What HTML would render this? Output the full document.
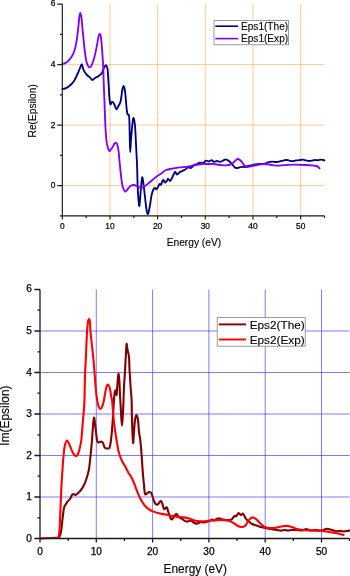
<!DOCTYPE html>
<html><head><meta charset="utf-8"><title>Epsilon</title>
<style>html,body{margin:0;padding:0;background:#fff}svg{display:block}text{font-family:"Liberation Sans",Arial,sans-serif;fill:#000}.t{stroke:#000;stroke-width:0.25px}.l{stroke:#000;stroke-width:0.12px}</style></head><body>
<svg width="350" height="576" viewBox="0 0 350 576">
<rect width="350" height="576" fill="#fff"/>
<path d="M110.0,4.1V215.8M157.6,4.1V215.8M205.3,4.1V215.8M253.0,4.1V215.8M300.7,4.1V215.8M62.3,185.6H324.5M62.3,125.1H324.5M62.3,64.6H324.5" stroke="#ff9a40" stroke-width="1" stroke-opacity="0.52" fill="none"/>
<path d="M62.5,89.0 C62.9,88.9 64.1,88.8 65.0,88.5 C65.9,88.2 67.0,87.7 68.0,87.0 C69.0,86.3 70.0,85.5 71.0,84.5 C72.0,83.5 72.8,82.9 74.0,81.0 C75.2,79.1 77.0,75.2 78.0,73.0 C79.0,70.8 79.4,69.4 80.0,68.0 C80.6,66.6 81.2,64.7 81.6,64.4 C82.0,64.2 82.2,65.6 82.5,66.5 C82.8,67.4 83.2,69.0 83.6,70.0 C84.0,71.0 84.4,71.7 85.0,72.5 C85.6,73.3 86.2,74.2 87.0,75.0 C87.8,75.8 89.1,76.8 90.0,77.6 C90.9,78.4 91.6,79.9 92.4,80.0 C93.2,80.1 94.0,78.7 95.0,78.0 C96.0,77.3 97.6,76.7 98.6,76.1 C99.5,75.5 100.2,74.8 100.7,74.3 C101.2,73.8 101.5,73.5 101.9,72.9 C102.3,72.3 102.6,71.5 102.9,70.7 C103.2,69.9 103.4,68.8 103.9,67.9 C104.4,67.0 105.2,65.5 105.7,65.3 C106.2,65.1 106.7,66.1 107.0,67.0 C107.3,67.9 107.4,67.7 107.7,70.5 C108.0,73.3 108.3,79.3 108.6,83.6 C108.9,87.9 109.0,93.0 109.3,96.4 C109.6,99.9 109.9,103.4 110.4,104.3 C110.9,105.2 111.4,101.6 112.1,101.6 C112.8,101.6 113.6,103.0 114.3,104.3 C115.0,105.6 115.7,109.1 116.4,109.3 C117.1,109.5 117.9,106.9 118.6,105.7 C119.3,104.5 119.9,103.6 120.4,102.1 C120.9,100.5 121.1,98.5 121.4,96.4 C121.7,94.3 122.0,91.0 122.4,89.3 C122.8,87.5 123.2,85.9 123.6,85.9 C124.0,85.9 124.3,87.3 124.7,89.3 C125.1,91.3 125.4,94.6 125.7,97.9 C126.0,101.2 126.4,106.6 126.7,109.3 C127.0,112.0 127.2,113.3 127.6,114.3 C128.0,115.3 128.7,113.7 129.0,115.5 C129.3,117.3 129.4,120.9 129.5,125.0 C129.6,129.1 129.7,135.5 129.8,140.0 C129.9,144.5 130.0,152.0 130.2,152.0 C130.4,152.0 130.6,144.7 131.0,140.0 C131.4,135.3 132.0,127.7 132.4,124.0 C132.8,120.3 133.2,117.7 133.6,118.0 C134.0,118.3 134.6,121.7 135.0,126.0 C135.4,130.3 135.7,137.7 136.0,144.0 C136.3,150.3 136.7,157.2 137.0,164.0 C137.3,170.8 137.4,179.2 137.6,185.0 C137.8,190.8 138.1,195.5 138.4,199.0 C138.7,202.5 139.1,206.7 139.4,206.0 C139.7,205.3 140.0,199.2 140.4,195.0 C140.8,190.8 141.3,183.9 141.6,181.0 C141.9,178.1 142.1,176.7 142.4,177.4 C142.7,178.1 143.2,181.7 143.6,185.0 C144.0,188.3 144.5,193.0 145.0,197.0 C145.5,201.0 145.9,206.2 146.4,209.0 C146.9,211.8 147.4,214.7 148.0,214.0 C148.6,213.3 149.4,208.2 150.0,205.0 C150.6,201.8 151.0,197.7 151.6,195.0 C152.2,192.3 153.0,190.2 153.6,189.0 C154.2,187.8 154.5,187.9 155.0,188.0 C155.5,188.1 155.9,189.6 156.4,189.4 C156.9,189.2 157.5,187.9 158.0,187.0 C158.5,186.1 159.1,184.4 159.6,184.0 C160.1,183.6 160.5,185.1 161.0,184.6 C161.5,184.1 162.0,181.8 162.4,181.0 C162.8,180.2 163.2,179.7 163.6,180.0 C164.0,180.3 164.4,182.5 165.0,182.6 C165.6,182.7 166.5,181.3 167.0,180.6 C167.5,179.9 167.5,178.5 168.0,178.6 C168.5,178.7 169.3,181.1 170.0,181.0 C170.7,180.9 171.2,179.5 172.0,178.0 C172.8,176.5 174.2,172.6 175.0,172.0 C175.8,171.4 176.2,174.6 177.0,174.6 C177.8,174.6 179.0,172.7 180.0,172.0 C181.0,171.3 182.0,171.1 183.0,170.6 C184.0,170.1 185.2,169.5 186.0,169.0 C186.8,168.5 187.2,167.6 188.0,167.4 C188.8,167.2 190.0,168.4 191.0,168.0 C192.0,167.6 193.0,165.7 194.0,165.0 C195.0,164.3 196.0,164.4 197.0,164.0 C198.0,163.6 199.0,162.8 200.0,162.6 C201.0,162.4 202.0,163.3 203.0,163.0 C204.0,162.7 205.0,160.9 206.0,160.6 C207.0,160.3 208.1,161.5 209.0,161.4 C209.9,161.3 210.8,160.1 211.6,160.2 C212.4,160.3 213.1,161.7 214.0,161.8 C214.9,161.9 216.0,161.0 217.0,161.0 C218.0,161.0 219.0,161.9 220.0,161.8 C221.0,161.7 222.1,161.0 223.0,160.6 C223.9,160.2 224.8,159.4 225.6,159.4 C226.4,159.4 227.3,160.0 228.0,160.4 C228.7,160.8 229.3,161.4 230.0,162.0 C230.7,162.6 231.3,163.3 232.0,164.0 C232.7,164.7 233.3,165.7 234.0,166.4 C234.7,167.1 235.2,167.8 236.0,168.0 C236.8,168.2 238.0,167.8 239.0,167.6 C240.0,167.4 241.0,166.9 242.0,166.8 C243.0,166.7 244.0,167.1 245.0,167.0 C246.0,166.9 247.0,166.3 248.0,166.0 C249.0,165.7 249.8,165.7 251.0,165.4 C252.2,165.1 253.5,164.6 255.0,164.4 C256.5,164.2 258.3,164.1 260.0,164.0 C261.7,163.9 263.7,163.9 265.0,163.6 C266.3,163.3 266.8,162.7 268.0,162.4 C269.2,162.1 270.7,161.7 272.0,161.6 C273.3,161.5 274.7,162.0 276.0,162.0 C277.3,162.0 278.7,161.7 280.0,161.4 C281.3,161.1 282.8,160.6 284.0,160.4 C285.2,160.2 286.0,159.9 287.0,160.0 C288.0,160.1 289.0,160.6 290.0,160.8 C291.0,161.0 292.0,161.3 293.0,161.2 C294.0,161.1 294.8,160.6 296.0,160.4 C297.2,160.2 298.8,160.1 300.0,160.0 C301.2,159.9 302.0,159.5 303.0,159.6 C304.0,159.7 305.0,160.2 306.0,160.4 C307.0,160.6 308.0,161.0 309.0,161.0 C310.0,161.0 311.0,160.8 312.0,160.6 C313.0,160.4 314.0,160.1 315.0,160.0 C316.0,159.9 317.0,160.3 318.0,160.2 C319.0,160.1 320.2,159.6 321.0,159.6 C321.8,159.6 322.4,159.9 323.0,160.0 C323.6,160.1 324.2,160.3 324.4,160.4" stroke="#00007f" stroke-width="1.85" fill="none" stroke-linejoin="round" stroke-linecap="round"/>
<path d="M62.1,64.3 C62.7,64.1 64.6,63.5 65.7,62.9 C66.8,62.3 67.6,61.7 68.6,60.7 C69.5,59.7 70.6,58.4 71.4,57.1 C72.2,55.8 72.9,54.6 73.6,52.9 C74.3,51.2 74.9,49.2 75.4,47.1 C75.9,45.0 76.3,42.4 76.7,40.0 C77.1,37.6 77.4,35.5 77.7,32.9 C78.0,30.3 78.3,26.9 78.6,24.3 C78.9,21.7 79.0,19.0 79.3,17.1 C79.6,15.2 79.9,12.8 80.3,12.8 C80.7,12.8 81.1,15.2 81.4,17.1 C81.7,19.0 81.8,21.7 82.1,24.3 C82.3,26.9 82.6,29.8 82.9,32.9 C83.2,36.0 83.6,39.6 83.9,42.9 C84.2,46.2 84.6,49.8 85.0,52.9 C85.4,56.0 85.9,59.3 86.4,61.4 C86.9,63.5 87.4,64.7 87.9,65.7 C88.4,66.7 89.0,67.4 89.6,67.4 C90.2,67.4 90.7,66.9 91.4,65.7 C92.1,64.5 92.9,62.1 93.6,60.0 C94.3,57.9 94.9,55.3 95.4,52.9 C96.0,50.5 96.5,48.1 96.9,45.7 C97.4,43.3 97.7,40.5 98.1,38.6 C98.5,36.7 98.9,35.2 99.3,34.5 C99.7,33.8 100.1,33.8 100.4,34.5 C100.7,35.2 100.8,36.5 101.1,38.6 C101.3,40.7 101.7,44.0 101.9,47.1 C102.2,50.2 102.4,53.8 102.6,57.1 C102.8,60.4 103.1,63.3 103.3,67.1 C103.5,70.9 103.4,74.5 103.6,80.0 C103.8,85.5 104.1,91.7 104.4,100.0 C104.7,108.3 105.2,122.7 105.6,130.0 C106.0,137.3 106.4,140.6 107.0,144.0 C107.6,147.4 108.4,149.5 109.0,150.5 C109.6,151.5 109.8,150.8 110.5,150.2 C111.2,149.5 112.2,147.7 112.9,146.6 C113.6,145.5 114.1,144.1 114.6,143.4 C115.1,142.8 115.5,142.4 116.0,142.7 C116.5,143.0 117.0,143.6 117.4,145.0 C117.8,146.4 118.2,148.4 118.6,151.4 C119.0,154.4 119.3,159.3 119.7,162.9 C120.1,166.5 120.4,170.1 120.7,172.9 C121.0,175.8 121.2,177.7 121.5,180.0 C121.8,182.3 122.2,185.1 122.8,187.0 C123.4,188.9 124.3,190.8 124.9,191.4 C125.5,192.0 126.0,191.2 126.6,190.6 C127.2,190.0 127.9,188.6 128.6,187.8 C129.3,187.0 130.2,186.3 131.0,185.8 C131.8,185.3 132.4,184.9 133.6,185.0 C134.8,185.1 136.7,186.1 137.9,186.6 C139.1,187.1 139.8,188.1 141.0,188.0 C142.2,187.9 143.5,187.0 145.0,186.0 C146.5,185.0 148.2,183.5 150.0,182.0 C151.8,180.5 154.0,178.5 156.0,177.0 C158.0,175.5 160.3,174.2 162.0,173.0 C163.7,171.8 164.3,170.7 166.0,170.0 C167.7,169.3 169.7,169.0 172.0,168.6 C174.3,168.2 177.3,167.7 180.0,167.4 C182.7,167.1 185.3,167.0 188.0,166.6 C190.7,166.2 193.7,165.4 196.0,165.0 C198.3,164.6 200.0,164.2 202.0,164.0 C204.0,163.8 206.0,164.0 208.0,164.0 C210.0,164.0 212.0,163.8 214.0,164.0 C216.0,164.2 218.0,164.8 220.0,165.0 C222.0,165.2 224.2,165.5 226.0,165.4 C227.8,165.3 229.7,165.0 231.0,164.4 C232.3,163.8 233.2,162.7 234.0,162.0 C234.8,161.3 235.3,160.5 236.0,160.0 C236.7,159.5 237.2,158.8 238.0,159.0 C238.8,159.2 240.0,160.0 241.0,161.0 C242.0,162.0 243.0,164.0 244.0,165.0 C245.0,166.0 245.8,166.8 247.0,167.0 C248.2,167.2 249.3,166.7 251.0,166.4 C252.7,166.1 255.0,165.4 257.0,165.0 C259.0,164.6 261.2,164.1 263.0,164.0 C264.8,163.9 266.3,164.2 268.0,164.4 C269.7,164.6 271.2,165.0 273.0,165.2 C274.8,165.4 276.5,165.7 279.0,165.6 C281.5,165.5 285.2,165.0 288.0,164.8 C290.8,164.6 293.3,164.6 296.0,164.6 C298.7,164.6 301.3,164.9 304.0,165.0 C306.7,165.1 310.0,165.2 312.0,165.4 C314.0,165.6 315.0,165.8 316.0,166.0 C317.0,166.2 317.4,166.4 318.0,166.8 C318.6,167.2 319.3,168.1 319.6,168.4" stroke="#7f00ff" stroke-width="1.85" fill="none" stroke-linejoin="round" stroke-linecap="round"/>
<path d="M62.3,4.1V215.8H324.5M62.3,185.6h-5M62.3,125.1h-5M62.3,64.6h-5M62.3,4.1h-5M62.3,215.8h-2.4M62.3,155.3h-2.4M62.3,94.8h-2.4M62.3,34.4h-2.4M62.3,215.8v3.7M110.0,215.8v3.7M157.6,215.8v3.7M205.3,215.8v3.7M253.0,215.8v3.7M300.7,215.8v3.7M86.1,215.8v2.3M133.8,215.8v2.3M181.5,215.8v2.3M229.1,215.8v2.3M276.8,215.8v2.3M324.5,215.8v2.3" stroke="#1a1a1a" stroke-width="1.15" fill="none"/>
<text x="55.4" y="188.0" font-size="8.4" class="t" text-anchor="end">0</text>
<text x="55.4" y="127.5" font-size="8.4" class="t" text-anchor="end">2</text>
<text x="55.4" y="67.0" font-size="8.4" class="t" text-anchor="end">4</text>
<text x="55.4" y="5.7" font-size="8.4" class="t" text-anchor="end">6</text>
<text transform="translate(62.3,229.2) scale(0.88,1)" font-size="9.5" class="t" text-anchor="middle">0</text>
<text transform="translate(110.0,229.2) scale(0.88,1)" font-size="9.5" class="t" text-anchor="middle">10</text>
<text transform="translate(157.6,229.2) scale(0.88,1)" font-size="9.5" class="t" text-anchor="middle">20</text>
<text transform="translate(205.3,229.2) scale(0.88,1)" font-size="9.5" class="t" text-anchor="middle">30</text>
<text transform="translate(253.0,229.2) scale(0.88,1)" font-size="9.5" class="t" text-anchor="middle">40</text>
<text transform="translate(300.7,229.2) scale(0.88,1)" font-size="9.5" class="t" text-anchor="middle">50</text>
<text x="193.9" y="245.5" font-size="10.2" class="l" text-anchor="middle">Energy (eV)</text>
<text transform="translate(36,110.8) rotate(-90)" font-size="10.2" class="l" text-anchor="middle">Re(Epsilon)</text>
<rect x="214" y="20.4" width="74.6" height="24.4" fill="#fff" stroke="#808080" stroke-width="0.8"/>
<path d="M215.3,26.2H238" stroke="#00007f" stroke-width="1.6"/>
<text x="241" y="29.8" font-size="10.1" class="l">Eps1(The)</text>
<path d="M215.3,38.6H238" stroke="#7f00ff" stroke-width="1.6"/>
<text x="241" y="42.2" font-size="10.1" class="l">Eps1(Exp)</text>
<path d="M96.3,289.5V538.5M152.6,289.5V538.5M208.9,289.5V538.5M265.2,289.5V538.5M321.5,289.5V538.5M40.0,497.0H349.6M40.0,455.5H349.6M40.0,414.0H349.6M40.0,372.5H349.6M40.0,331.0H349.6" stroke="#3838ff" stroke-width="1" stroke-opacity="0.66" fill="none"/>
<path d="M59.0,538.0 C59.3,537.0 60.4,535.0 61.0,532.0 C61.6,529.0 61.9,524.0 62.4,520.0 C62.9,516.0 63.4,510.7 64.0,508.0 C64.6,505.3 65.3,505.2 66.0,504.0 C66.7,502.8 67.3,501.8 68.0,501.0 C68.7,500.2 69.3,500.0 70.0,499.0 C70.7,498.0 71.4,495.8 72.0,495.0 C72.6,494.2 73.0,494.0 73.6,494.0 C74.2,494.0 74.9,495.2 75.6,495.0 C76.3,494.8 77.1,493.8 78.0,493.0 C78.9,492.2 80.0,491.3 81.0,490.0 C82.0,488.7 83.2,486.7 84.0,485.0 C84.8,483.3 85.4,481.7 86.0,480.0 C86.6,478.3 87.1,476.8 87.6,475.0 C88.1,473.2 88.6,471.3 89.0,469.0 C89.4,466.7 89.7,464.0 90.0,461.0 C90.3,458.0 90.7,454.5 91.0,451.0 C91.3,447.5 91.7,444.2 92.0,440.0 C92.3,435.8 92.7,429.7 93.0,426.0 C93.3,422.3 93.7,417.9 94.0,417.6 C94.3,417.3 94.7,421.6 95.0,424.0 C95.3,426.4 95.7,429.3 96.0,432.0 C96.3,434.7 96.7,438.3 97.0,440.0 C97.3,441.7 97.5,442.1 98.0,442.4 C98.5,442.7 99.4,442.1 100.0,442.0 C100.6,441.9 101.1,441.4 101.6,441.6 C102.1,441.8 102.5,442.1 103.0,443.0 C103.5,443.9 103.9,446.1 104.4,447.0 C104.9,447.9 105.4,448.1 106.0,448.4 C106.6,448.6 107.4,448.6 108.0,448.5 C108.6,448.4 109.0,448.6 109.4,448.0 C109.8,447.4 109.9,446.3 110.2,445.0 C110.5,443.7 110.7,442.5 111.0,440.0 C111.3,437.5 111.7,434.0 112.0,430.0 C112.3,426.0 112.7,421.0 113.0,416.0 C113.3,411.0 113.7,403.8 114.0,400.0 C114.3,396.2 114.4,394.5 114.6,393.0 C114.8,391.5 115.0,391.4 115.2,391.0 C115.4,390.6 115.8,389.9 116.0,390.6 C116.2,391.3 116.4,395.6 116.6,395.0 C116.8,394.4 117.0,390.0 117.2,387.0 C117.4,384.0 117.8,379.2 118.0,377.0 C118.2,374.8 118.4,373.3 118.6,374.0 C118.8,374.7 119.2,377.5 119.4,381.0 C119.6,384.5 119.8,391.0 120.0,395.0 C120.2,399.0 120.4,401.5 120.6,405.0 C120.8,408.5 121.0,412.6 121.2,416.0 C121.4,419.4 121.7,425.6 122.0,425.6 C122.3,425.6 122.6,419.6 122.8,416.0 C123.0,412.4 123.2,408.8 123.4,404.0 C123.6,399.2 123.7,392.5 124.0,387.0 C124.3,381.5 124.7,376.7 125.0,371.0 C125.3,365.3 125.7,357.5 126.0,353.0 C126.3,348.5 126.4,344.7 126.6,344.0 C126.8,343.3 127.2,347.7 127.4,349.0 C127.6,350.3 127.7,350.7 128.0,352.0 C128.3,353.3 128.7,353.8 129.0,357.0 C129.3,360.2 129.3,366.0 129.6,371.0 C129.9,376.0 130.3,382.2 130.6,387.0 C130.9,391.8 131.4,394.5 131.6,400.0 C131.8,405.5 131.8,414.0 132.0,420.0 C132.2,426.0 132.4,432.2 132.6,436.0 C132.8,439.8 133.0,443.7 133.2,443.0 C133.4,442.3 133.7,435.8 134.0,432.0 C134.3,428.2 134.6,422.8 135.0,420.0 C135.4,417.2 135.9,415.0 136.4,415.0 C136.9,415.0 137.6,417.2 138.0,420.0 C138.4,422.8 138.7,429.0 139.0,432.0 C139.3,435.0 139.7,435.5 140.0,438.0 C140.3,440.5 140.7,443.2 141.0,447.0 C141.3,450.8 141.7,456.3 142.0,461.0 C142.3,465.7 142.7,471.0 143.0,475.0 C143.3,479.0 143.7,481.8 144.0,485.0 C144.3,488.2 144.5,492.6 145.0,494.0 C145.5,495.4 146.3,493.7 147.0,493.4 C147.7,493.1 148.3,492.1 149.0,492.0 C149.7,491.9 150.4,491.9 151.0,492.6 C151.6,493.3 151.9,494.6 152.4,496.0 C152.9,497.4 153.5,499.7 154.0,501.0 C154.5,502.3 155.0,503.4 155.6,504.0 C156.2,504.6 156.9,504.9 157.6,504.6 C158.3,504.3 159.0,502.6 159.6,502.0 C160.2,501.4 160.5,500.7 161.0,501.0 C161.5,501.3 161.9,502.7 162.4,504.0 C162.9,505.3 163.5,508.3 164.0,509.0 C164.5,509.7 165.1,508.3 165.6,508.0 C166.1,507.7 166.6,506.9 167.0,507.4 C167.4,507.9 167.5,509.4 168.0,511.0 C168.5,512.6 169.4,515.6 170.0,517.0 C170.6,518.4 171.1,519.2 171.6,519.4 C172.1,519.6 172.4,518.7 173.0,518.0 C173.6,517.3 174.4,515.7 175.0,515.0 C175.6,514.3 176.1,513.8 176.6,514.0 C177.1,514.2 177.4,515.3 178.0,516.0 C178.6,516.7 179.3,517.5 180.0,518.0 C180.7,518.5 181.7,518.6 182.4,519.0 C183.1,519.4 183.6,520.2 184.4,520.6 C185.2,521.0 186.2,521.5 187.0,521.6 C187.8,521.7 188.3,521.2 189.0,521.0 C189.7,520.8 190.3,520.2 191.0,520.4 C191.7,520.6 192.2,521.5 193.0,522.0 C193.8,522.5 195.1,523.4 196.0,523.6 C196.9,523.8 197.8,523.3 198.6,523.0 C199.4,522.7 200.1,522.1 201.0,522.0 C201.9,521.9 203.0,522.5 204.0,522.4 C205.0,522.3 206.0,521.8 207.0,521.6 C208.0,521.4 209.2,521.3 210.0,521.0 C210.8,520.7 211.3,519.7 212.0,519.6 C212.7,519.5 213.2,520.5 214.0,520.4 C214.8,520.3 215.8,519.3 216.6,519.0 C217.4,518.7 218.3,518.4 219.0,518.4 C219.7,518.4 220.3,518.8 221.0,519.0 C221.7,519.2 222.6,519.4 223.4,519.6 C224.2,519.8 225.1,519.9 226.0,520.0 C226.9,520.1 228.1,520.1 229.0,520.0 C229.9,519.9 230.7,520.0 231.4,519.6 C232.1,519.2 232.5,518.2 233.0,517.6 C233.5,517.0 234.1,516.2 234.6,516.0 C235.1,515.8 235.5,516.7 236.0,516.4 C236.5,516.1 237.0,515.0 237.4,514.4 C237.8,513.8 238.2,513.0 238.6,513.0 C239.0,513.0 239.5,514.1 240.0,514.4 C240.5,514.7 241.0,515.1 241.4,515.0 C241.8,514.9 242.2,513.6 242.6,513.6 C243.0,513.6 243.5,514.3 244.0,515.0 C244.5,515.7 244.8,517.1 245.4,518.0 C246.0,518.9 246.7,519.7 247.4,520.4 C248.1,521.1 248.6,521.4 249.4,522.0 C250.2,522.6 251.1,523.5 252.0,524.0 C252.9,524.5 254.0,524.7 255.0,525.0 C256.0,525.3 257.0,525.7 258.0,526.0 C259.0,526.3 259.8,526.7 261.0,527.0 C262.2,527.3 263.7,527.7 265.0,528.0 C266.3,528.3 267.7,528.4 269.0,528.6 C270.3,528.8 271.7,529.2 273.0,529.4 C274.3,529.6 275.7,529.8 277.0,530.0 C278.3,530.2 279.7,530.6 281.0,530.6 C282.3,530.6 283.8,530.0 285.0,530.0 C286.2,530.0 286.8,530.6 288.0,530.6 C289.2,530.6 290.5,530.1 292.0,530.0 C293.5,529.9 295.3,529.9 297.0,530.0 C298.7,530.1 300.4,530.6 302.0,530.5 C303.6,530.4 304.9,529.1 306.3,529.1 C307.7,529.1 309.0,530.4 310.6,530.5 C312.2,530.6 314.0,530.0 315.7,530.0 C317.4,530.0 319.6,530.6 321.0,530.5 C322.4,530.4 323.3,529.8 324.3,529.5 C325.3,529.2 325.9,528.8 326.9,528.8 C327.9,528.8 329.2,529.2 330.3,529.5 C331.4,529.8 332.6,530.2 333.7,530.5 C334.8,530.8 336.0,531.1 337.1,531.2 C338.2,531.3 339.5,530.9 340.6,530.9 C341.8,530.9 342.9,531.5 344.0,531.5 C345.1,531.5 346.4,531.1 347.4,530.9 C348.4,530.7 349.6,530.6 350.0,530.5" stroke="#7f0000" stroke-width="2.1" fill="none" stroke-linejoin="round" stroke-linecap="round"/>
<path d="M41.0,538.4 C42.5,538.3 47.2,538.1 50.0,538.0 C52.8,537.9 56.5,537.9 58.0,537.6 C59.5,537.3 58.7,538.9 59.0,536.0 C59.3,533.1 59.7,526.7 60.0,520.0 C60.3,513.3 60.7,502.2 61.0,496.0 C61.3,489.8 61.4,487.2 61.6,483.0 C61.8,478.8 62.1,475.7 62.4,471.0 C62.7,466.3 63.2,459.3 63.6,455.0 C64.0,450.7 64.4,447.4 65.0,445.0 C65.6,442.6 66.2,440.6 67.0,440.6 C67.8,440.6 68.8,443.3 69.6,445.0 C70.4,446.7 71.2,449.3 72.0,451.0 C72.8,452.7 73.7,454.2 74.4,455.0 C75.1,455.8 75.7,456.3 76.4,456.0 C77.1,455.7 77.8,454.5 78.4,453.0 C79.0,451.5 79.5,449.2 80.0,447.0 C80.5,444.8 80.8,444.5 81.3,440.0 C81.8,435.5 82.5,426.3 83.0,420.0 C83.5,413.7 84.1,409.5 84.4,402.0 C84.7,394.5 84.7,382.8 85.0,375.0 C85.3,367.2 85.7,362.2 86.0,355.0 C86.3,347.8 86.7,337.5 87.0,332.0 C87.3,326.5 87.7,324.2 88.0,322.0 C88.3,319.8 88.7,319.0 89.0,319.0 C89.3,319.0 89.8,320.2 90.0,322.0 C90.2,323.8 90.1,326.0 90.4,330.0 C90.7,334.0 91.5,341.3 92.0,346.0 C92.5,350.7 92.9,353.8 93.3,358.0 C93.7,362.2 94.0,366.2 94.4,371.0 C94.8,375.8 95.2,382.3 95.6,387.0 C96.0,391.7 96.5,395.8 97.0,399.0 C97.5,402.2 97.8,404.3 98.4,406.0 C99.0,407.7 99.7,409.0 100.4,409.0 C101.1,409.0 101.8,407.5 102.4,406.0 C103.0,404.5 103.6,401.8 104.0,400.0 C104.4,398.2 104.4,397.2 104.8,395.0 C105.2,392.8 105.9,388.7 106.4,387.0 C106.9,385.3 107.4,384.3 108.0,384.6 C108.6,384.9 109.5,386.9 110.0,389.0 C110.5,391.1 110.9,395.0 111.3,397.0 C111.7,399.0 111.9,398.5 112.2,401.0 C112.5,403.5 112.7,408.5 113.0,412.0 C113.3,415.5 113.6,418.3 114.0,422.0 C114.4,425.7 115.0,430.2 115.6,434.0 C116.1,437.8 116.7,441.3 117.3,444.5 C117.9,447.7 118.2,450.2 119.0,453.0 C119.8,455.8 121.0,458.8 122.0,461.0 C123.0,463.2 124.0,464.2 125.0,466.0 C126.0,467.8 127.0,470.2 128.0,472.0 C129.0,473.8 130.0,474.7 131.0,476.5 C132.0,478.3 133.0,480.6 134.0,483.0 C135.0,485.4 136.0,488.5 137.0,491.0 C138.0,493.5 138.8,495.7 140.0,498.0 C141.2,500.3 142.7,502.8 144.0,504.6 C145.3,506.4 146.5,507.5 148.0,508.6 C149.5,509.7 151.0,510.6 153.0,511.4 C155.0,512.2 157.5,512.8 160.0,513.4 C162.5,514.0 165.3,514.5 168.0,515.0 C170.7,515.5 173.3,516.2 176.0,516.6 C178.7,517.0 181.8,517.1 184.0,517.4 C186.2,517.7 187.5,518.0 189.0,518.4 C190.5,518.8 191.7,519.6 193.0,520.0 C194.3,520.4 195.3,520.8 197.0,521.0 C198.7,521.2 201.0,521.5 203.0,521.4 C205.0,521.3 207.0,520.8 209.0,520.6 C211.0,520.4 213.0,520.5 215.0,520.4 C217.0,520.3 219.0,520.0 221.0,520.0 C223.0,520.0 225.3,520.1 227.0,520.4 C228.7,520.7 229.7,521.0 231.0,521.6 C232.3,522.2 233.8,523.3 235.0,524.0 C236.2,524.7 237.0,525.5 238.0,526.0 C239.0,526.5 240.0,526.9 241.0,527.0 C242.0,527.1 243.2,526.7 244.0,526.4 C244.8,526.1 245.5,525.6 246.0,525.0 C246.5,524.4 246.5,523.8 247.0,523.0 C247.5,522.2 248.3,520.8 249.0,520.0 C249.7,519.2 250.3,518.4 251.0,518.0 C251.7,517.6 252.2,517.2 253.0,517.4 C253.8,517.6 255.0,518.2 256.0,519.0 C257.0,519.8 258.0,521.0 259.0,522.0 C260.0,523.0 261.0,524.2 262.0,525.0 C263.0,525.8 263.8,526.5 265.0,527.0 C266.2,527.5 267.5,527.8 269.0,528.0 C270.5,528.2 272.3,528.2 274.0,528.0 C275.7,527.8 277.3,527.3 279.0,527.0 C280.7,526.7 282.5,526.2 284.0,526.0 C285.5,525.8 286.7,525.8 288.0,526.0 C289.3,526.2 290.5,526.5 292.0,527.0 C293.5,527.5 295.2,528.5 297.0,529.0 C298.8,529.5 301.0,529.8 303.0,530.0 C305.0,530.2 307.0,530.3 309.0,530.4 C311.0,530.5 313.0,530.5 315.0,530.6 C317.0,530.7 318.9,530.7 321.0,530.9 C323.1,531.1 325.4,531.4 327.7,531.7 C330.0,532.0 332.6,532.5 334.6,532.9 C336.6,533.3 338.2,533.6 339.7,534.0 C341.2,534.4 342.9,534.9 343.5,535.1" stroke="#ff0000" stroke-width="2.1" fill="none" stroke-linejoin="round" stroke-linecap="round"/>
<path d="M40.0,289.5V538.5H349.6M40.0,538.5h-5.6M40.0,497.0h-5.6M40.0,455.5h-5.6M40.0,414.0h-5.6M40.0,372.5h-5.6M40.0,331.0h-5.6M40.0,289.5h-5.6M40.0,517.8h-2.6M40.0,476.2h-2.6M40.0,434.8h-2.6M40.0,393.2h-2.6M40.0,351.8h-2.6M40.0,310.2h-2.6M40.0,538.5v4M96.3,538.5v4M152.6,538.5v4M208.9,538.5v4M265.2,538.5v4M321.5,538.5v4M68.2,538.5v2.4M124.5,538.5v2.4M180.8,538.5v2.4M237.0,538.5v2.4M293.4,538.5v2.4M349.6,538.5v2.4" stroke="#1a1a1a" stroke-width="1.3" fill="none"/>
<text x="31.8" y="541.5" font-size="10.1" class="t" text-anchor="end">0</text>
<text x="31.8" y="500.0" font-size="10.1" class="t" text-anchor="end">1</text>
<text x="31.8" y="458.5" font-size="10.1" class="t" text-anchor="end">2</text>
<text x="31.8" y="417.0" font-size="10.1" class="t" text-anchor="end">3</text>
<text x="31.8" y="375.5" font-size="10.1" class="t" text-anchor="end">4</text>
<text x="31.8" y="334.0" font-size="10.1" class="t" text-anchor="end">5</text>
<text x="31.8" y="291.7" font-size="10.1" class="t" text-anchor="end">6</text>
<text x="40.0" y="554.7" font-size="10.1" class="t" text-anchor="middle">0</text>
<text x="96.3" y="554.7" font-size="10.1" class="t" text-anchor="middle">10</text>
<text x="152.6" y="554.7" font-size="10.1" class="t" text-anchor="middle">20</text>
<text x="208.9" y="554.7" font-size="10.1" class="t" text-anchor="middle">30</text>
<text x="265.2" y="554.7" font-size="10.1" class="t" text-anchor="middle">40</text>
<text x="321.5" y="554.7" font-size="10.1" class="t" text-anchor="middle">50</text>
<text x="195.3" y="573.1" font-size="11.9" class="l" text-anchor="middle">Energy (eV)</text>
<text transform="translate(8.8,415.6) rotate(-90)" font-size="11.9" class="l" text-anchor="middle">Im(Epsilon)</text>
<rect x="217.2" y="317.6" width="88.0" height="28.6" fill="#fff" stroke="#808080" stroke-width="0.8"/>
<path d="M218.8,324.4H246" stroke="#7f0000" stroke-width="1.9"/>
<text x="249.7" y="328.6" font-size="11.8" class="l">Eps2(The)</text>
<path d="M218.8,339.5H246" stroke="#ff0000" stroke-width="1.9"/>
<text x="249.7" y="343.7" font-size="11.8" class="l">Eps2(Exp)</text>
</svg></body></html>
